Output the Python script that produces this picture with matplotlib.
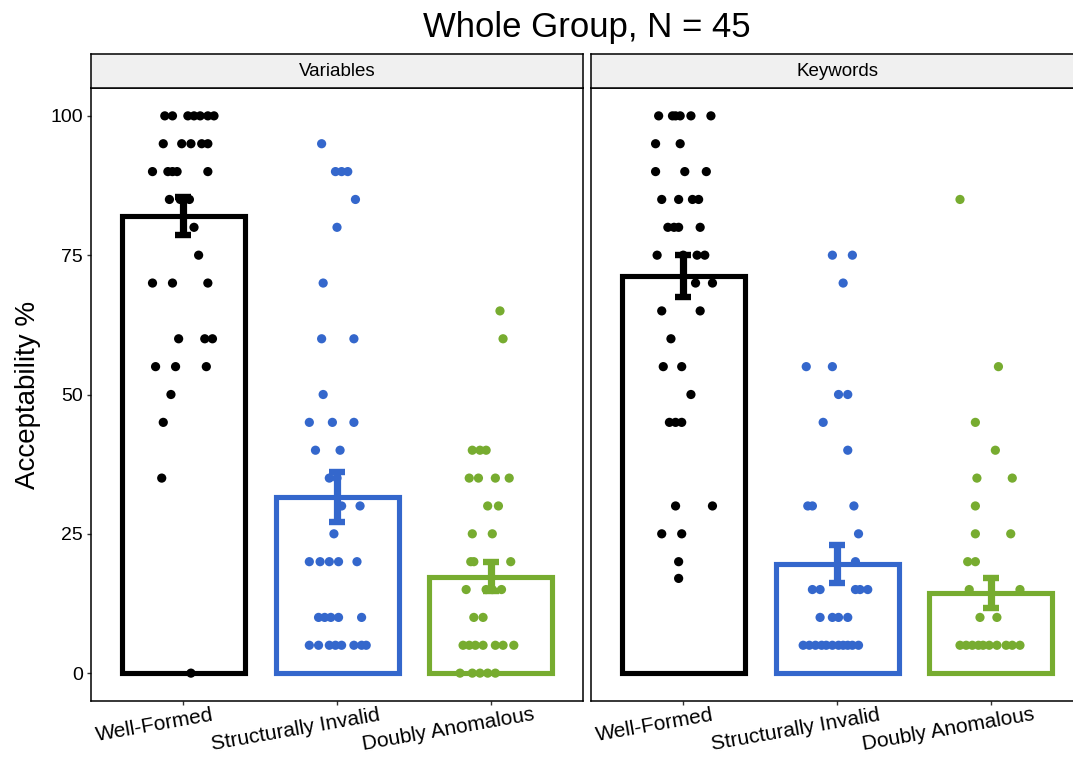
import numpy as np
import matplotlib
matplotlib.use('Agg')
import matplotlib.pyplot as plt

plt.rcParams['font.family'] = ['Liberation Sans', 'DejaVu Sans']

# conditions and facets
conditions = ['Well-Formed', 'Structurally Invalid', 'Doubly Anomalous']
facets = ['Variables', 'Keywords']
colors = ['#000000', '#3467CC', '#77AC30']

# group means and standard errors (acceptability %)
var_means = [82.1, 31.6, 17.3]
var_se = [3.4, 4.5, 2.65]
key_means = [71.3, 19.6, 14.4]
key_se = [3.8, 3.35, 2.65]

# participant scores, Variables
var_wf_scores = [100, 100, 100, 100, 100, 100, 100, 95, 95, 95, 95, 95, 90, 90, 90, 90, 90,
                 85, 85, 85, 80, 75, 70, 70, 70, 60, 60, 60, 55, 55, 55, 50, 45, 35, 0]
var_si_scores = [95, 90, 90, 90, 85, 80, 70, 60, 60, 50, 45, 45, 45, 40, 40, 35, 35, 30, 30, 25,
                 20, 20, 20, 20, 20, 10, 10, 10, 10, 10, 5, 5, 5, 5, 5, 5, 5, 5]
var_da_scores = [65, 60, 40, 40, 40, 35, 35, 35, 35, 30, 30, 25, 25, 20, 20, 20, 15, 15, 15, 15,
                 10, 10, 5, 5, 5, 5, 5, 5, 5, 0, 0, 0, 0, 0]

# participant scores, Keywords
key_wf_scores = [100, 100, 100, 100, 100, 100, 95, 95, 90, 90, 90, 85, 85, 85, 85, 80, 80, 80, 80,
                 75, 75, 75, 75, 70, 70, 65, 65, 60, 55, 55, 50, 45, 45, 45, 30, 30, 25, 25, 20, 17]
key_si_scores = [75, 75, 70, 55, 55, 50, 50, 45, 40, 30, 30, 30, 25, 20, 15, 15, 15, 15, 15,
                 10, 10, 10, 10, 5, 5, 5, 5, 5, 5, 5, 5, 5, 5, 5]
key_da_scores = [85, 55, 45, 40, 35, 35, 30, 25, 25, 20, 20, 15, 15, 10, 10,
                 5, 5, 5, 5, 5, 5, 5, 5, 5, 5]

# horizontal jitter of the points (category units)
var_wf_jitter = [-0.12, -0.07, 0.03, 0.07, 0.11, 0.16, 0.20, -0.13, -0.01, 0.05, 0.12, 0.16,
                 -0.20, -0.10, -0.07, -0.04, 0.16, -0.09, -0.02, 0.04, 0.07, 0.10, -0.20, -0.07, 0.16,
                 -0.03, 0.14, 0.19, -0.18, -0.05, 0.15, -0.08, -0.13, -0.14, 0.05]
var_si_jitter = [-0.10, -0.01, 0.03, 0.07, 0.12, 0.00, -0.09, -0.10, 0.11, -0.09, -0.18, -0.03, 0.11,
                 -0.14, 0.02, -0.05, 0.00, 0.03, 0.15, -0.02, -0.18, -0.11, -0.05, 0.01, 0.13,
                 -0.12, -0.08, -0.04, 0.01, 0.16, -0.18, -0.12, -0.05, -0.01, 0.03, 0.11, 0.16, 0.19]
var_da_jitter = [0.06, 0.08, -0.12, -0.07, -0.03, -0.14, -0.08, 0.03, 0.12, -0.02, 0.05, -0.12, 0.01,
                 -0.13, -0.11, 0.13, -0.16, -0.03, 0.01, 0.07, -0.11, -0.05,
                 -0.18, -0.14, -0.10, -0.05, 0.03, 0.08, 0.15, -0.20, -0.12, -0.07, -0.02, 0.03]
key_wf_jitter = [-0.16, -0.07, -0.05, -0.02, 0.05, 0.18, -0.18, -0.02, -0.18, 0.01, 0.15,
                 -0.14, -0.03, 0.06, 0.10, -0.10, -0.06, -0.03, 0.11, -0.17, 0.00, 0.09, 0.14,
                 0.08, 0.19, -0.14, 0.11, -0.08, -0.13, -0.01, 0.05, -0.09, -0.05, -0.01,
                 -0.05, 0.19, -0.14, -0.01, -0.03, -0.03]
key_si_jitter = [-0.03, 0.10, 0.04, -0.20, -0.03, 0.01, 0.07, -0.09, 0.07, -0.19, -0.16, 0.11,
                 0.14, 0.12, -0.16, -0.11, 0.12, 0.15, 0.20, -0.11, -0.03, 0.01, 0.07,
                 -0.22, -0.18, -0.14, -0.10, -0.07, -0.03, 0.01, 0.04, 0.07, 0.10, 0.14]
key_da_jitter = [-0.20, 0.05, -0.10, 0.03, -0.09, 0.14, -0.10, -0.10, 0.13, -0.15, -0.10,
                 -0.14, 0.19, -0.07, 0.04,
                 -0.20, -0.16, -0.12, -0.08, -0.05, -0.01, 0.04, 0.10, 0.14, 0.19]

panel_data = [
    (var_means, var_se, [var_wf_scores, var_si_scores, var_da_scores],
     [var_wf_jitter, var_si_jitter, var_da_jitter]),
    (key_means, key_se, [key_wf_scores, key_si_scores, key_da_scores],
     [key_wf_jitter, key_si_jitter, key_da_jitter]),
]

W, H = 1073, 759
fig = plt.figure(figsize=(W / 100, H / 100), dpi=100)

panel_left = [91, 591]
panel_w = 492
panel_top, panel_bottom = 88, 701
strip_top = 54

axes = []
for p, (facet, (means, se, scores, jitter)) in enumerate(zip(facets, panel_data)):
    ax = fig.add_axes([panel_left[p] / W, (H - panel_bottom) / H,
                       panel_w / W, (panel_bottom - panel_top) / H])
    x = np.arange(1, 4)

    ax.bar(x, means, width=0.8, facecolor='white', edgecolor=colors,
           linewidth=3.7, joinstyle='miter', zorder=2)

    for i in range(3):
        ax.scatter(x[i] + np.array(jitter[i]), scores[i], s=44, color=colors[i],
                   edgecolors='none', zorder=3)

    for i in range(3):
        ax.errorbar(x[i], means[i], yerr=se[i], fmt='none', ecolor=colors[i],
                    elinewidth=5.2, capsize=5.6, capthick=4.6, zorder=4)

    ax.set_xlim(0.4, 3.6)
    ax.set_ylim(-5, 105)
    ax.set_yticks([0, 25, 50, 75, 100])
    ax.set_xticks(x)
    ax.set_xticklabels([])
    ax.tick_params(axis='both', length=3, width=1, color='#333333', labelsize=14,
                   labelcolor='black', pad=3)
    if p == 1:
        ax.tick_params(axis='y', left=False, labelleft=False)
    for s in ax.spines.values():
        s.set_linewidth(1.1)
        s.set_color('black')

    # rotated category labels
    anns = []
    for i, name in enumerate(conditions):
        a = ax.annotate(name, xy=(x[i], 0), xycoords=('data', 'axes fraction'),
                        xytext=(0, -3), textcoords='offset points',
                        rotation=10, ha='center', va='top', fontsize=15)
        anns.append(a)
    axes.append((ax, anns))

    # facet strip
    sax = fig.add_axes([panel_left[p] / W, (H - panel_top) / H,
                        panel_w / W, (panel_top - strip_top) / H])
    sax.set_facecolor('#F0F0F0')
    sax.set_xticks([])
    sax.set_yticks([])
    for s in sax.spines.values():
        s.set_linewidth(1.1)
    sax.text(0.5, 0.5, facet, ha='center', va='center', fontsize=13.5,
             transform=sax.transAxes)

# shift the category labels so they sit left of their ticks
fig.canvas.draw()
renderer = fig.canvas.get_renderer()
for ax, anns in axes:
    for a in anns:
        w = a.get_window_extent(renderer).width
        a.xyann = (-0.24 * w * 72 / fig.dpi, -3)

fig.text(28 / W, 1 - 395 / H, 'Acceptability %', rotation=90, ha='center', va='center',
         fontsize=20)
fig.text(587 / W, 1 - 27 / H, 'Whole Group, N = 45', ha='center', va='center', fontsize=25)

fig.savefig('out.png', dpi=100)
